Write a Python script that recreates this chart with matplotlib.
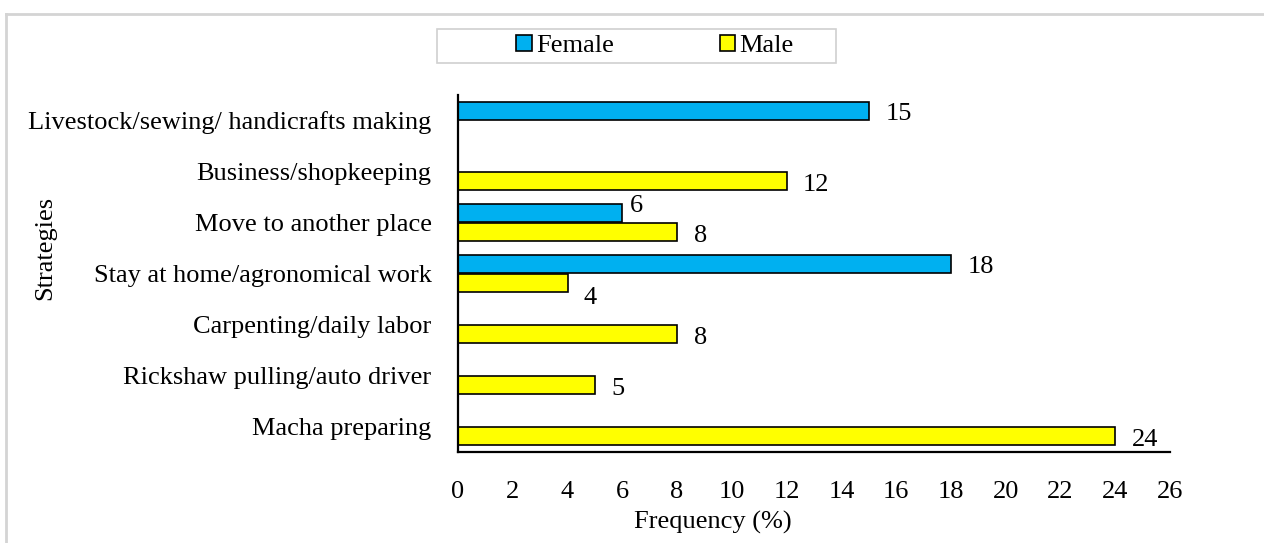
import matplotlib
matplotlib.use("Agg")
import matplotlib.pyplot as plt
from matplotlib.lines import Line2D
from matplotlib.patches import Patch, Rectangle
import numpy as np

plt.rcParams['font.family'] = ['Liberation Serif', 'DejaVu Serif']

categories = ["Livestock/sewing/ handicrafts making", "Business/shopkeeping",
              "Move to another place", "Stay at home/agronomical work",
              "Carpenting/daily labor", "Rickshaw pulling/auto driver",
              "Macha preparing"]
female = [15, None, 6, 18, None, None, None]
male = [None, 12, 8, 4, 8, 5, 24]
xticks = list(range(0, 27, 2))

W, H = 1264, 543
fig = plt.figure(figsize=(W / 100, H / 100), dpi=100)
ax = fig.add_axes([458 / W, 1 - 452 / H, (1170 - 458) / W, (452 - 95) / H])

y = np.arange(len(categories))
bh = 0.355
fs = 19

for i, v in enumerate(female):
    if v is not None:
        ax.barh(i - bh / 2 - 0.01, v, height=bh, color="#00B0F0",
                edgecolor="black", linewidth=1.2)
for i, v in enumerate(male):
    if v is not None:
        ax.barh(i + bh / 2 + 0.01, v, height=bh, color="#FFFF00",
                edgecolor="black", linewidth=1.2)

# value labels
for i, v in enumerate(female):
    if v is not None:
        if male[i] is not None and male[i] > v:
            ax.text(v + 0.5, i - bh / 2 - 0.15, str(v), va="center", ha="center", fontsize=fs)
        else:
            ax.text(v + 0.6, i - bh / 2 + 0.05, str(v), va="center", ha="left", fontsize=fs)
for i, v in enumerate(male):
    if v is not None:
        if female[i] is not None and female[i] > v:
            ax.text(v + 0.6, i + bh / 2 + 0.3, str(v), va="center", ha="left", fontsize=fs)
        else:
            ax.text(v + 0.6, i + bh / 2 + 0.08, str(v), va="center", ha="left", fontsize=fs)

ax.set_xlim(0, 26)
ax.set_ylim(len(categories) - 0.5, -0.5)
ax.set_xticks(xticks)
ax.set_xticklabels([str(t) for t in xticks], fontsize=fs)
ax.set_yticks(y)
ax.set_yticklabels(categories, fontsize=fs)
ax.tick_params(axis="both", length=0)
ax.tick_params(axis="x", pad=21)
ax.tick_params(axis="y", pad=19)
for s in ["top", "right"]:
    ax.spines[s].set_visible(False)
for s in ["left", "bottom"]:
    ax.spines[s].set_linewidth(1.6)
    ax.spines[s].set_color("black")

ax.set_xlabel("Frequency (%)", fontsize=fs)
ax.xaxis.set_label_coords(713 / W, 1 - 522 / H, transform=fig.transFigure)
ax.xaxis.label.set_va("center")
ax.set_ylabel("Strategies", fontsize=fs)
ax.yaxis.set_label_coords(45 / W, 1 - 248 / H, transform=fig.transFigure)
ax.yaxis.label.set_va("center")

# legend box
fig.add_artist(Rectangle((437 / W, 1 - 63 / H), (836 - 437) / W, (63 - 29) / H,
                         transform=fig.transFigure, facecolor="white",
                         edgecolor="#D0D0D0", lw=1.2))
handles = [Patch(facecolor="#00B0F0", edgecolor="black", lw=1.2, label="Female"),
           Patch(facecolor="#FFFF00", edgecolor="black", lw=1.2, label="Male")]
leg = fig.legend(handles=handles, loc="center", ncol=2,
                 bbox_to_anchor=(655 / W, 1 - 46 / H), fontsize=fs,
                 frameon=False, handlelength=0.6, handleheight=0.6,
                 handletextpad=0.15, columnspacing=4.0, borderpad=0.2,
                 borderaxespad=0)

# outer border (top and left only, as cropped)
fig.add_artist(Line2D([6 / W, 1], [1 - 14 / H, 1 - 14 / H], color="#D4D4D4", lw=2,
                      transform=fig.transFigure))
fig.add_artist(Line2D([6 / W, 6 / W], [0, 1 - 14 / H], color="#D4D4D4", lw=2,
                      transform=fig.transFigure))

fig.savefig("out.png", dpi=100)
